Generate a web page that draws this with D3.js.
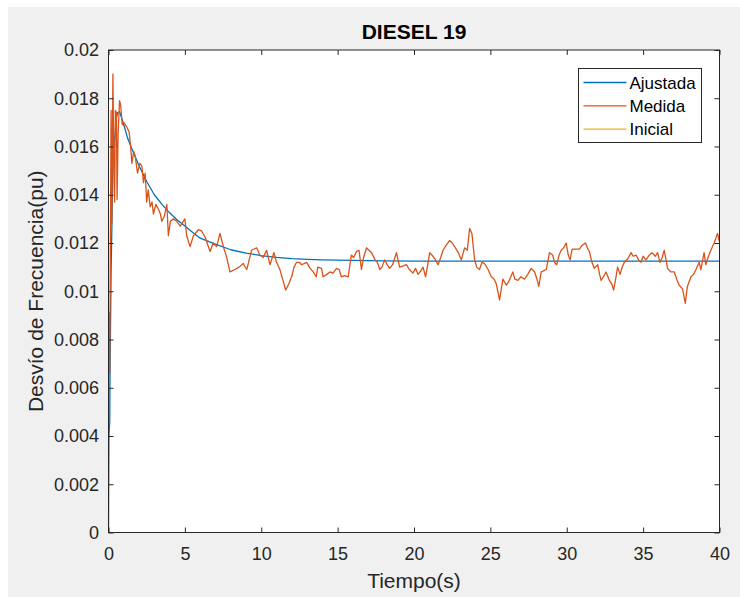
<!DOCTYPE html>
<html>
<head>
<meta charset="utf-8">
<title>DIESEL 19</title>
<script src="https://d3js.org/d3.v7.min.js"></script>
<style>
	body{ margin: 0; background: #fff; }
	svg{ display: block; font-family: "Liberation Sans", Arial, sans-serif; }
	.tick text{ fill: #262626; }
	.domain{ display: none; }
</style>
</head>
<body>
<script>
	// datos (valores en pu)
	const xTicks = [0, 5, 10, 15, 20, 25, 30, 35, 40]
	const yTicks = [0, 0.002, 0.004, 0.006, 0.008, 0.01, 0.012, 0.014, 0.016, 0.018, 0.02]
	const seriesNames = ['Ajustada', 'Medida', 'Inicial']
	const seriesColors = ['#0072BD', '#D95319', '#EDB120']

	// curva ajustada [t, desvio*1000]
	const ajustada = [[0,0],[0.03,4.0],[0.08,4.6],[0.1,6.6],[0.17,10.8],[0.22,12.6],[0.28,15.1],[0.35,16.0],
		[0.44,16.6],[0.52,17.2],[0.6,17.4],[0.72,17.45],[0.85,17.2],[1.0,16.9],[1.25,16.35],[1.5,15.95],
		[2.0,15.2],[2.5,14.55],[3.0,14.0],[3.5,13.6],[4.0,13.25],[4.5,12.95],[5.0,12.7],[5.5,12.45],
		[6.0,12.2],[7.0,11.95],[8.0,11.72],[9.0,11.58],[10.0,11.48],[11.0,11.4],[12.0,11.35],[13.0,11.32],
		[14.0,11.3],[16.0,11.28],[18.0,11.26],[20.0,11.25],[25.0,11.25],[30.0,11.25],[35.0,11.25],[40.0,11.25]]

	// senal medida [t, desvio*1000]
	const medida = [[0,4.2],[0.05,9.1],[0.08,6.6],[0.12,11.5],[0.17,17.5],[0.22,12.8],[0.29,19.0],[0.35,15.0],
		[0.4,13.7],[0.45,17.5],[0.52,17.4],[0.56,13.8],[0.63,16.5],[0.72,17.9],[0.8,17.7],[0.9,16.9],[1.0,17.0],
		[1.2,16.8],[1.35,16.6],[1.45,16.0],[1.53,15.3],[1.65,15.8],[1.75,15.6],[1.9,14.9],[2.05,15.3],[2.18,15.2],
		[2.29,14.5],[2.4,14.9],[2.5,13.7],[2.6,14.2],[2.73,13.5],[2.85,13.7],[2.94,13.2],[3.1,13.6],[3.27,13.4],
		[3.4,13.2],[3.49,12.9],[3.65,13.1],[3.82,13.6],[3.92,12.3],[4.05,12.9],[4.25,13.0],[4.47,12.9],[4.7,12.7],
		[5.0,13.0],[5.12,12.3],[5.34,11.85],[5.56,12.3],[5.88,12.55],[6.1,12.5],[6.35,12.2],[6.65,11.65],[6.85,12.0],
		[7.08,11.85],[7.3,12.4],[7.52,11.85],[7.74,11.4],[7.95,10.8],[8.28,10.9],[8.55,11.0],[8.82,11.15],[9.05,10.9],
		[9.37,11.7],[9.7,11.8],[9.9,11.5],[10.13,11.4],[10.35,11.7],[10.57,11.1],[10.83,11.6],[11.0,11.2],[11.22,10.9],
		[11.4,10.5],[11.6,10.05],[11.8,10.3],[11.99,10.6],[12.15,11.0],[12.31,11.2],[12.5,11.2],[12.64,11.1],
		[12.97,11.2],[13.2,10.95],[13.4,10.8],[13.6,10.6],[13.7,11.0],[13.95,10.95],[14.05,10.6],[14.3,10.7],
		[14.5,10.8],[14.7,10.75],[14.93,10.95],[15.1,10.9],[15.25,10.6],[15.45,10.65],[15.69,10.6],[15.9,11.5],
		[16.05,11.4],[16.24,11.65],[16.4,11.7],[16.56,10.9],[16.7,11.4],[16.89,11.8],[17.05,11.7],[17.22,11.6],
		[17.45,11.3],[17.6,11.2],[17.76,10.9],[17.9,11.0],[18.08,11.3],[18.25,11.1],[18.41,10.95],[18.6,11.1],
		[18.85,11.6],[19.06,11.0],[19.3,11.05],[19.5,11.1],[19.7,10.9],[19.93,10.75],[20.1,10.95],[20.26,10.7],
		[20.45,10.85],[20.59,11.0],[20.76,10.6],[20.9,11.1],[21.03,11.6],[21.24,11.45],[21.4,11.3],[21.57,11.1],
		[21.75,11.4],[21.9,11.7],[22.1,11.9],[22.33,12.1],[22.5,12.0],[22.66,11.85],[22.9,11.6],[23.1,11.3],
		[23.31,11.8],[23.49,11.7],[23.64,12.6],[23.79,12.4],[23.97,11.3],[24.1,11.0],[24.29,10.9],[24.45,11.2],
		[24.62,11.15],[24.85,10.9],[25.06,10.6],[25.25,10.5],[25.39,10.3],[25.6,9.64],[25.82,10.5],[26.04,10.25],
		[26.2,10.4],[26.47,10.8],[26.6,10.5],[26.8,10.45],[27.0,10.6],[27.23,10.5],[27.45,10.7],[27.67,10.95],
		[27.9,10.8],[28.05,10.5],[28.17,10.2],[28.33,10.8],[28.66,10.9],[28.87,11.6],[29.08,11.5],[29.2,11.2],
		[29.35,11.1],[29.5,11.5],[29.64,11.7],[29.8,11.8],[29.96,12.0],[30.1,11.5],[30.22,11.3],[30.35,11.75],
		[30.5,11.75],[30.83,11.75],[31.0,11.9],[31.22,12.0],[31.35,11.8],[31.48,11.65],[31.65,11.2],[31.8,10.95],
		[32.03,11.1],[32.15,10.7],[32.25,10.45],[32.4,10.6],[32.57,10.8],[32.79,10.45],[32.95,10.3],[33.07,10.05],
		[33.2,10.5],[33.33,11.0],[33.49,10.7],[33.63,11.0],[33.77,11.2],[34.0,11.35],[34.21,11.6],[34.35,11.45],
		[34.54,11.5],[34.7,11.3],[34.86,11.2],[35.0,11.45],[35.19,11.3],[35.4,11.5],[35.58,11.6],[35.8,11.45],
		[35.95,11.6],[36.1,11.2],[36.25,11.4],[36.38,11.7],[36.5,11.3],[36.6,10.95],[36.82,10.8],[37.04,10.8],
		[37.2,10.5],[37.36,10.25],[37.58,10.1],[37.76,9.5],[37.9,10.2],[38.13,10.6],[38.3,10.7],[38.46,10.9],
		[38.67,11.2],[38.78,10.9],[38.99,11.6],[39.1,11.1],[39.25,11.4],[39.43,11.7],[39.65,12.0],[39.87,12.4],
		[40.0,12.05]]

	// la curva inicial no se ve en la figura
	const inicial = []

	var W = 740, H = 597
	var plot = {left: 108.5, right: 719.5, top: 50, bottom: 532.5}

	const svg = d3.select('body').append('svg')
				  .attr('width', W)
				  .attr('height', H)
	svg.append('rect')
	   .attr('x', 8).attr('y', 7)
	   .attr('width', W - 8).attr('height', H - 7)
	   .attr('fill', '#f0f0f0')
	svg.append('rect')
	   .attr('x', plot.left).attr('y', plot.top)
	   .attr('width', plot.right - plot.left).attr('height', plot.bottom - plot.top)
	   .attr('fill', '#fff')

	const xScale = d3.scaleLinear().domain([0, 40]).range([plot.left, plot.right])
	const yScale = d3.scaleLinear().domain([0, 0.02]).range([plot.bottom, plot.top])

	svg.append('clipPath').attr('id', 'clip')
	   .append('rect')
	   .attr('x', plot.left).attr('y', plot.top - 1)
	   .attr('width', plot.right - plot.left).attr('height', plot.bottom - plot.top + 1)

	const line = d3.line()
				   .x(d => xScale(d[0]))
				   .y(d => yScale(d[1] / 1000))
	const lines = svg.append('g').attr('clip-path', 'url(#clip)')
	const allSeries = [ajustada, medida, inicial]
	allSeries.forEach(function(s, i){
		if (s.length === 0) return
		lines.append('path')
			 .attr('d', line(s))
			 .attr('fill', 'none')
			 .attr('stroke', seriesColors[i])
			 .attr('stroke-width', 1.3)
			 .attr('stroke-linejoin', 'round')
	})

	// ejes, marcas hacia dentro en los cuatro lados
	const xAxis = d3.axisBottom(xScale).tickValues(xTicks).tickFormat(d3.format('d'))
					.tickSizeInner(-5).tickSizeOuter(0).tickPadding(14.5)
	const yAxis = d3.axisLeft(yScale).tickValues(yTicks).tickFormat(d => d === 0 ? '0' : d3.format('.3~f')(d))
					.tickSizeInner(-5).tickSizeOuter(0).tickPadding(9.5)
	svg.append('g')
	   .attr('transform', 'translate(0,' + plot.bottom + ')')
	   .call(xAxis)
	svg.append('g')
	   .attr('transform', 'translate(' + plot.left + ',0)')
	   .call(yAxis)
	svg.append('g')
	   .attr('transform', 'translate(0,' + plot.top + ')')
	   .call(d3.axisTop(xScale).tickValues(xTicks).tickFormat('').tickSizeInner(-5).tickSizeOuter(0))
	svg.append('g')
	   .attr('transform', 'translate(' + plot.right + ',0)')
	   .call(d3.axisRight(yScale).tickValues(yTicks).tickFormat('').tickSizeInner(-5).tickSizeOuter(0))
	svg.selectAll('.tick line').attr('stroke', '#262626')
	svg.selectAll('.tick text').style('font-size', '18px')
	   .style('font-family', '"Liberation Sans", Arial, sans-serif')

	svg.append('rect')
	   .attr('x', plot.left).attr('y', plot.top)
	   .attr('width', plot.right - plot.left).attr('height', plot.bottom - plot.top)
	   .attr('fill', 'none')
	   .attr('stroke', '#262626')
	   .attr('stroke-width', 1)

	// textos
	svg.append('text')
	   .attr('x', (plot.left + plot.right) / 2)
	   .attr('y', 39)
	   .attr('text-anchor', 'middle')
	   .style('font-size', '21px').style('font-weight', 'bold')
	   .attr('fill', '#000')
	   .text('DIESEL 19')
	svg.append('text')
	   .attr('x', (plot.left + plot.right) / 2)
	   .attr('y', 588)
	   .attr('text-anchor', 'middle')
	   .style('font-size', '21px')
	   .attr('fill', '#262626')
	   .text('Tiempo(s)')
	svg.append('text')
	   .attr('transform', 'translate(43,' + (plot.top + plot.bottom) / 2 + ') rotate(-90)')
	   .attr('text-anchor', 'middle')
	   .style('font-size', '21px')
	   .attr('fill', '#262626')
	   .text('Desvío de Frecuencia(pu)')

	// leyenda
	const legend = svg.append('g').attr('transform', 'translate(578.5,68.5)')
	legend.append('rect')
		  .attr('width', 123).attr('height', 74)
		  .attr('fill', '#fff').attr('stroke', '#262626')
	seriesNames.forEach(function(name, i){
		var yy = 14 + i * 23.3
		legend.append('line')
			  .attr('x1', 5).attr('x2', 48)
			  .attr('y1', yy).attr('y2', yy)
			  .attr('stroke', seriesColors[i]).attr('stroke-width', 1.3)
		legend.append('text')
			  .attr('x', 51).attr('y', yy + 6)
			  .style('font-size', '17px')
			  .attr('fill', '#000')
			  .text(name)
	})
</script>
</body>
</html>
